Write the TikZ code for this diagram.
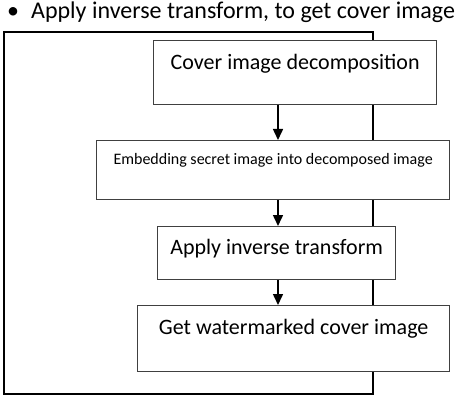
\documentclass[tikz,border=0pt]{standalone}
\usepackage{fontspec}
\setmainfont{Carlito}
\usetikzlibrary{arrows.meta}

\begin{document}
\begin{tikzpicture}[x=1pt,y=-1pt,
  box/.style={draw=black!75,line width=1.3pt,fill=white,inner sep=0pt,anchor=north west,
    font=\fontsize{22}{26}\selectfont},
  arr/.style={line width=1.5pt,-{Triangle[width=10pt,length=11pt]}}]
\useasboundingbox (0,0) rectangle (462,406);
\node[anchor=base west,inner sep=0pt,font=\fontsize{24}{28}\selectfont] (title) at (7,18.5)
  {•\hspace{12pt}Apply inverse transform, to get cover image};
\draw[line width=2.3pt] (4,32) rectangle (373,394);
\node[box,minimum width=283pt,text height=29pt,text depth=35pt] (decomp) at (153,40) {Cover image decomposition};
\node[box,minimum width=353pt,text height=24pt,text depth=35pt,font=\fontsize{16}{19}\selectfont] (embed) at (96,140) {Embedding secret image into decomposed image};
\node[box,minimum width=238pt,text height=28pt,text depth=25pt] (inverse) at (157,226) {Apply inverse transform};
\node[box,minimum width=312pt,text height=29pt,text depth=37pt] (result) at (137,305) {Get watermarked cover image};
\coordinate (axis) at (278,0);
\draw[arr] (decomp.south -| axis) -- (embed.north -| axis);
\draw[arr] (embed.south -| axis) -- (inverse.north -| axis);
\draw[arr] (inverse.south -| axis) -- (result.north -| axis);
\end{tikzpicture}
\end{document}
